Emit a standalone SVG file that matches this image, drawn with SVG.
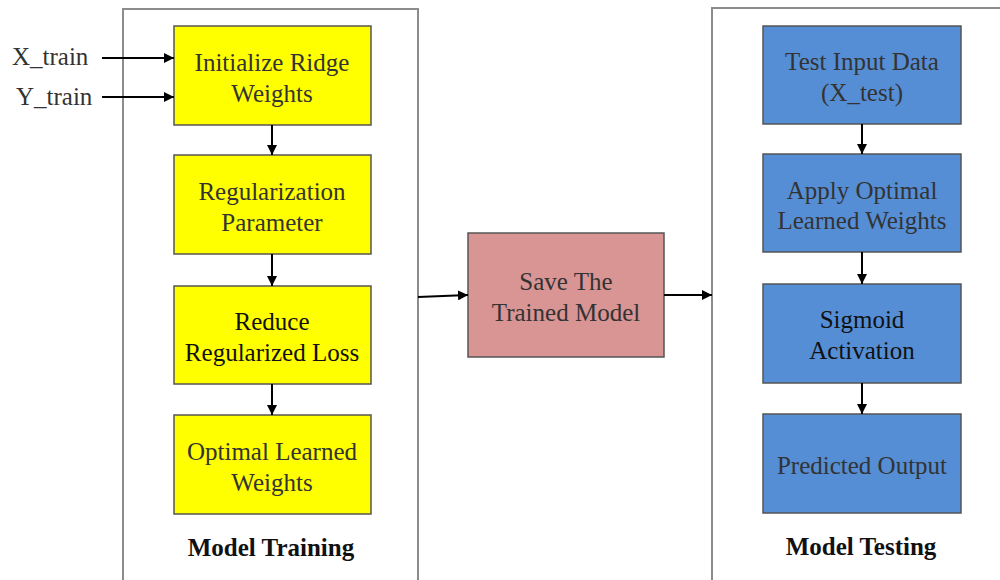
<svg xmlns="http://www.w3.org/2000/svg" width="1000" height="580" viewBox="0 0 1000 580">
  <style>
    .panel { fill: none; stroke: #8c8c8c; stroke-width: 2; }
    .box { stroke: #555555; stroke-width: 1.5; }
    .train { fill: #ffff00; }
    .save { fill: #d99594; }
    .test { fill: #558ed5; }
    text { font-family: "Liberation Serif", "Times New Roman", serif; font-size: 25px; text-anchor: middle; fill: #333333; }
    .dark { fill: #111111; }
    .title { font-weight: bold; font-size: 25px; fill: #111111; }
    .input { text-anchor: start; }
    .conn { stroke: #000000; stroke-width: 2; fill: none; marker-end: url(#arrow); }
  </style>
  <defs>
    <marker id="arrow" viewBox="0 0 10 10" refX="10" refY="5" markerWidth="5" markerHeight="5" orient="auto" markerUnits="strokeWidth">
      <path d="M0,0 L10,5 L0,10 z" fill="#000000"/>
    </marker>
  </defs>

  <!-- stage panels -->
  <g id="panel-training">
    <rect class="panel" x="123" y="9" width="295" height="590"/>
    <text class="title" x="271" y="556">Model Training</text>
  </g>
  <g id="panel-testing">
    <rect class="panel" x="712" y="8" width="310" height="590"/>
    <text class="title" x="861" y="555">Model Testing</text>
  </g>

  <!-- inputs -->
  <g id="input-x">
    <text class="input" x="12" y="65">X_train</text>
  </g>
  <g id="input-y">
    <text class="input" x="16" y="105">Y_train</text>
  </g>

  <!-- training steps -->
  <g id="init-weights">
    <rect class="box train" x="174" y="26" width="197" height="99"/>
    <text x="272" y="71">Initialize Ridge</text>
    <text x="272" y="102">Weights</text>
  </g>
  <g id="reg-param">
    <rect class="box train" x="174" y="155" width="197" height="99"/>
    <text x="272" y="200">Regularization</text>
    <text x="272" y="231">Parameter</text>
  </g>
  <g id="reduce-loss">
    <rect class="box train" x="174" y="286" width="197" height="98"/>
    <text class="dark" x="272" y="330">Reduce</text>
    <text class="dark" x="272" y="361">Regularized Loss</text>
  </g>
  <g id="optimal-weights">
    <rect class="box train" x="174" y="415" width="197" height="99"/>
    <text x="272" y="460">Optimal Learned</text>
    <text x="272" y="491">Weights</text>
  </g>

  <!-- saved model -->
  <g id="save-model">
    <rect class="box save" x="468" y="233" width="196" height="124"/>
    <text x="566" y="290">Save The</text>
    <text x="566" y="321">Trained Model</text>
  </g>

  <!-- testing steps -->
  <g id="test-input">
    <rect class="box test" x="763" y="26" width="198" height="98"/>
    <text x="862" y="70">Test Input Data</text>
    <text x="862" y="101">(X_test)</text>
  </g>
  <g id="apply-weights">
    <rect class="box test" x="763" y="154" width="198" height="98"/>
    <text x="862" y="199">Apply Optimal</text>
    <text x="862" y="229">Learned Weights</text>
  </g>
  <g id="sigmoid">
    <rect class="box test" x="763" y="284" width="198" height="99"/>
    <text class="dark" x="862" y="328">Sigmoid</text>
    <text class="dark" x="862" y="359">Activation</text>
  </g>
  <g id="predicted-output">
    <rect class="box test" x="763" y="414" width="198" height="99"/>
    <text x="862" y="474">Predicted Output</text>
  </g>

  <!-- connectors -->
  <g id="connectors">
    <line class="conn" x1="102" y1="58" x2="174" y2="58"/>
    <line class="conn" x1="102" y1="97" x2="174" y2="97"/>
    <line class="conn" x1="272" y1="125" x2="272" y2="155"/>
    <line class="conn" x1="272" y1="254" x2="272" y2="286"/>
    <line class="conn" x1="272" y1="384" x2="272" y2="415"/>
    <line class="conn" x1="418" y1="297" x2="468" y2="295"/>
    <line class="conn" x1="664" y1="295" x2="712" y2="295"/>
    <line class="conn" x1="862" y1="124" x2="862" y2="154"/>
    <line class="conn" x1="862" y1="252" x2="862" y2="284"/>
    <line class="conn" x1="862" y1="383" x2="862" y2="414"/>
  </g>
</svg>
